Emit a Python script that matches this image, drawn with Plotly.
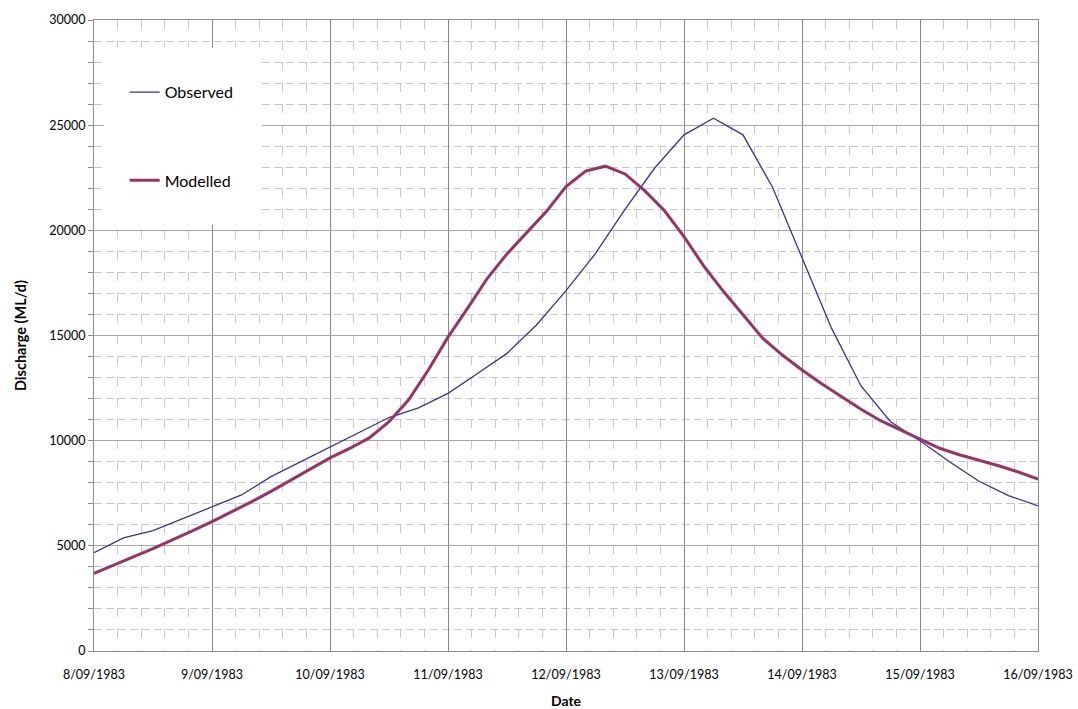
import pandas as pd
import plotly.graph_objects as go

# Discharge series (ML/d)
observed_start = "1983-09-08 00:00"
observed_step = "6h"
observed = [4670, 5380, 5720, 6290, 6860, 7420, 8290, 8990, 9670, 10400, 11100,
            11560, 12250, 13190, 14150, 15500, 17130, 18900, 21000, 22950, 24540,
            25330, 24540, 22050, 18670, 15350, 12600, 10900, 10000, 9000, 8070,
            7390, 6900]

modelled_start = "1983-09-08 00:00"
modelled_step = "4h"
modelled = [3690, 4100, 4480, 4870, 5280, 5710, 6150, 6610, 7090, 7590, 8110,
            8650, 9180, 9630, 10130, 10900, 11940, 13360, 14920, 16300, 17720,
            18880, 19910, 20890, 22080, 22820, 23050, 22680, 21890, 20940, 19700,
            18310, 17100, 16010, 14870, 14070, 13360, 12710, 12090, 11490, 10950,
            10510, 10050, 9640, 9330, 9070, 8810, 8510, 8170]

obs_time = pd.date_range(observed_start, periods=len(observed), freq=observed_step)
mod_time = pd.date_range(modelled_start, periods=len(modelled), freq=modelled_step)

FONT = "Lato"
DAY_MS = 24 * 3600 * 1000

fig = go.Figure()
fig.add_trace(go.Scatter(x=obs_time, y=observed, mode="lines", name="Observed",
                         legendgroup="obs",
                         line=dict(color="#33339C", width=1.3)))
fig.add_trace(go.Scatter(x=mod_time, y=modelled, mode="lines", name="Modelled",
                         legendgroup="mod",
                         line=dict(color="#993366", width=3)))

# white legend panel
fig.add_shape(type="rect", xref="paper", yref="paper",
              x0=0.0106, x1=0.178, y0=0.676, y1=0.9564,
              fillcolor="white", line=dict(width=0), layer="above")

fig.update_layout(
    width=1078, height=709,
    margin=dict(l=94, r=40, t=20, b=58),
    paper_bgcolor="white", plot_bgcolor="white",
    font=dict(family=FONT, size=12.5, color="#000000"),
    showlegend=True,
    legend=dict(x=0.0325, y=0.9125, xanchor="left", yanchor="top",
                bgcolor="rgba(0,0,0,0)", borderwidth=0,
                font=dict(family=FONT, size=16),
                tracegroupgap=64.4, itemwidth=30),
    xaxis=dict(
        type="date",
        range=["1983-09-08", "1983-09-16"],
        tick0="1983-09-08", dtick=DAY_MS,
        tickformat="%-d/%m/%Y",
        automargin=False,
        showgrid=True, gridcolor="#888888", gridwidth=1,
        ticks="", ticklabelstandoff=12,
        showline=True, linecolor="#8c8c8c", linewidth=1, mirror=True,
        zeroline=False,
        minor=dict(dtick=DAY_MS / 5, tick0="1983-09-08", showgrid=True,
                   gridcolor="#c8c8c8", gridwidth=1, griddash="9px,12px"),
        title=dict(text="<b>Date</b>", font=dict(family=FONT, size=14), standoff=16),
    ),
    yaxis=dict(
        range=[0, 30000], dtick=5000, tick0=0, tickformat="d",
        automargin=False,
        showgrid=True, gridcolor="#a6a6a6", gridwidth=1,
        ticks="outside", ticklen=5, tickcolor="#8c8c8c",
        showline=True, linecolor="#8c8c8c", linewidth=1, mirror=True,
        zeroline=False,
        minor=dict(dtick=1000, showgrid=True, gridcolor="#c8c8c8", gridwidth=1,
                   griddash="8px,4px", ticks="outside", ticklen=5,
                   tickcolor="#8c8c8c"),
        title=dict(text="<b>Discharge (ML/d)</b>", font=dict(family=FONT, size=14.5),
                   standoff=19),
    ),
)

fig.write_html("out.html")
